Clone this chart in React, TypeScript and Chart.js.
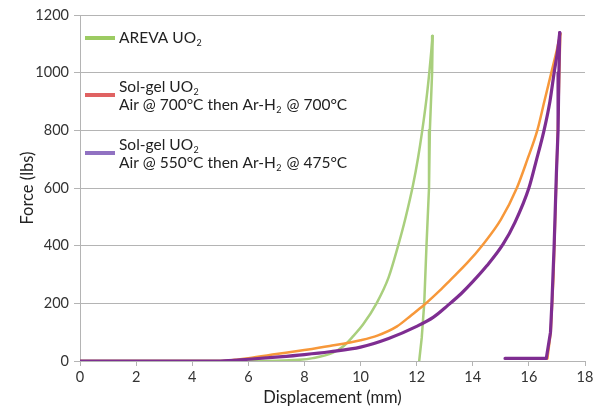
import React, { useEffect, useRef } from "react";
import { Chart, registerables } from "chart.js";

Chart.register(...registerables);

const FONT = "Lato, 'DejaVu Sans', sans-serif";

// Compression tests: displacement (mm) vs force (lbs), loading and unloading branches
const arevaLoadDisp = [0, 5.0, 7.0, 7.8, 8.3, 9.0, 9.4, 9.7, 10.1, 10.57, 11.0, 11.34, 11.6, 11.87, 12.05, 12.2, 12.35, 12.46, 12.57];
const arevaLoadForce = [0, 0, 1, 4, 10, 28, 52, 82, 128, 200, 290, 400, 495, 610, 705, 800, 910, 1010, 1127];
const arevaUnloadDisp = [12.57, 12.55, 12.47, 12.44, 12.35, 12.27, 12.18, 12.09];
const arevaUnloadForce = [1127, 1000, 800, 600, 400, 200, 80, 0];

const solgel700LoadDisp = [0, 5.0, 5.5, 6.0, 7.0, 8.0, 8.9, 10.0, 10.6, 11.3, 11.8, 12.27, 12.83, 13.19, 13.8, 14.33, 15.0, 15.57, 15.95, 16.3, 16.55, 16.8, 17.0, 17.12];
const solgel700LoadForce = [0, 0, 4, 10, 24, 38, 52, 72, 88, 120, 158, 195, 245, 280, 340, 400, 490, 600, 700, 800, 900, 1000, 1080, 1135];
const solgel700UnloadDisp = [17.12, 17.06, 16.97, 16.88, 16.78, 16.66];
const solgel700UnloadForce = [1135, 900, 600, 300, 100, 8];

const solgel550LoadDisp = [0, 5.0, 6.0, 7.1, 8.0, 8.9, 10.0, 11.0, 12.0, 12.6, 13.1, 13.6, 14.0, 14.5, 15.08, 15.5, 16.0, 16.25, 16.54, 16.75, 16.9, 17.03, 17.1];
const solgel550LoadForce = [0, 0, 6, 14, 22, 32, 48, 78, 120, 152, 192, 235, 275, 330, 405, 480, 600, 690, 800, 900, 1000, 1080, 1139];
const solgel550UnloadDisp = [17.1, 17.07, 17.04, 16.98, 16.9, 16.82, 16.77, 16.62, 15.15];
const solgel550UnloadForce = [1139, 1000, 800, 650, 400, 200, 100, 9, 9];

// Key entries; "₂" is set as a subscript when drawn
const keyLabels = [
  ["AREVA UO₂"],
  ["Sol-gel UO₂", "Air @ 700°C then Ar-H₂ @ 700°C"],
  ["Sol-gel UO₂", "Air @ 550°C then Ar-H₂ @ 475°C"],
];
const keyColors = ["#9ccb62", "#e06262", "#9172c2"];

const lineColors = ["#a9cf7d", "#f7983a", "#7e2d91"];

const toPoints = (xs: number[], ys: number[]) => xs.map((x, i) => ({ x, y: ys[i] }));

const KEY_SIZE = 15.5;

function drawRich(ctx: CanvasRenderingContext2D, text: string, x: number, y: number) {
  const parts = text.split("₂");
  let cx = x;
  parts.forEach((p, i) => {
    ctx.font = `${KEY_SIZE}px ${FONT}`;
    ctx.fillText(p, cx, y);
    cx += ctx.measureText(p).width;
    if (i < parts.length - 1) {
      ctx.font = `9px ${FONT}`;
      ctx.fillText("2", cx + 0.5, y + 5);
      cx += ctx.measureText("2").width + 1.5;
    }
  });
}

const keyPlugin = {
  id: "sideKey",
  afterDatasetsDraw(chart: any) {
    const { ctx, chartArea } = chart;
    const centers = [23, 80, 138];
    ctx.save();
    ctx.textBaseline = "middle";
    ctx.textAlign = "left";
    keyLabels.forEach((lines, i) => {
      const cy = chartArea.top + centers[i];
      ctx.strokeStyle = keyColors[i];
      ctx.lineWidth = 4;
      ctx.lineCap = "butt";
      ctx.beginPath();
      ctx.moveTo(chartArea.left + 5, cy);
      ctx.lineTo(chartArea.left + 35, cy);
      ctx.stroke();
      ctx.fillStyle = "#222";
      const tx = chartArea.left + 39;
      if (lines.length === 1) {
        drawRich(ctx, lines[0], tx, cy);
      } else {
        drawRich(ctx, lines[0], tx, cy - 8);
        drawRich(ctx, lines[1], tx, cy + 10);
      }
    });
    ctx.restore();
  },
};

const branch = (xs: number[], ys: number[], color: string, width: number, order: number, smooth: boolean) => ({
  data: toPoints(xs, ys),
  borderColor: color,
  borderWidth: width,
  order,
  cubicInterpolationMode: smooth ? "monotone" : "default",
  tension: 0,
});

export default function App() {
  const ref = useRef<HTMLCanvasElement>(null);

  useEffect(() => {
    document.body.style.margin = "0";
    const canvas = ref.current!;
    const grid = "#b4b4b4";
    const chart = new Chart(canvas, {
      type: "line",
      data: {
        datasets: [
          branch(solgel550LoadDisp, solgel550LoadForce, lineColors[2], 3.2, 1, true),
          branch(solgel550UnloadDisp, solgel550UnloadForce, lineColors[2], 3.2, 1, false),
          branch(solgel700LoadDisp, solgel700LoadForce, lineColors[1], 2.5, 2, true),
          branch(solgel700UnloadDisp, solgel700UnloadForce, lineColors[1], 2.5, 2, false),
          branch(arevaLoadDisp, arevaLoadForce, lineColors[0], 2.5, 3, true),
          branch(arevaUnloadDisp, arevaUnloadForce, lineColors[0], 2.5, 3, false),
        ],
      },
      options: {
        animation: false,
        responsive: false,
        elements: { point: { radius: 0 }, line: { borderJoinStyle: "round", borderCapStyle: "round" } },
        layout: { padding: { top: 15, right: 22, left: 0, bottom: 0 } },
        plugins: { legend: { display: false }, tooltip: { enabled: false } },
        scales: {
          x: {
            type: "linear",
            min: 0,
            max: 18,
            ticks: { stepSize: 2, color: "#333", font: { family: FONT, size: 14.5 }, padding: 3, maxRotation: 0, callback: (v: any) => String(v) },
            grid: { drawOnChartArea: false, color: grid, tickLength: 5 },
            border: { color: grid },
            title: { display: true, text: "Displacement (mm)", color: "#222", font: { family: FONT, size: 16.5 }, padding: { top: 0, bottom: 3 } },
            afterFit: (s: any) => { s.height = 50; },
          },
          y: {
            type: "linear",
            min: 0,
            max: 1200,
            ticks: { stepSize: 200, color: "#333", font: { family: FONT, size: 14.5 }, padding: 5, callback: (v: any) => String(v) },
            grid: { color: grid, tickLength: 6 },
            border: { color: grid },
            title: { display: true, text: "Force (lbs)", color: "#222", font: { family: FONT, size: 16.5 }, padding: { top: 18, bottom: 0 } },
            afterFit: (s: any) => { s.width = 80; },
          },
        },
      },
      plugins: [keyPlugin],
    } as any);
    return () => chart.destroy();
  }, []);

  return (
    <div style={{ position: "absolute", left: 0, top: 0, width: 607, height: 411, background: "#fff" }}>
      <canvas ref={ref} width={607} height={411} />
    </div>
  );
}
